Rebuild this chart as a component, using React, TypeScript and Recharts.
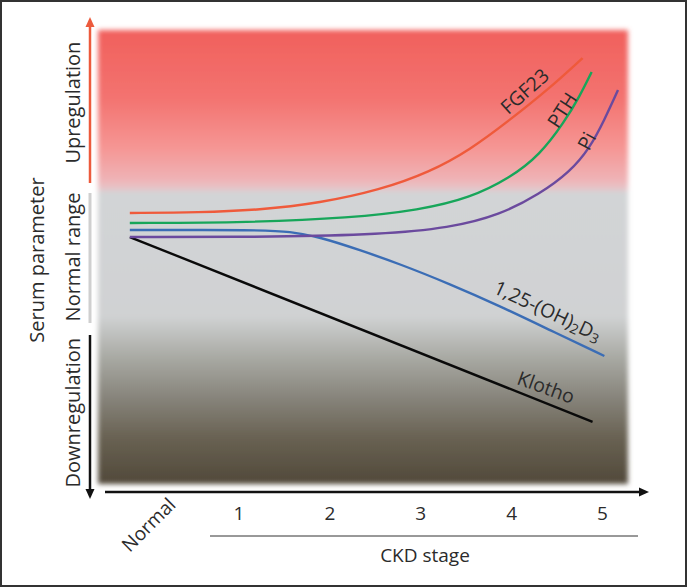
import React from "react";
import {
  LineChart,
  Line,
  XAxis,
  YAxis,
  ReferenceArea,
  ReferenceDot,
} from "recharts";

// stage positions on the x axis ("Normal" sits a bit left of stage 1)
const stageTicks = [-0.2, 1, 2, 3, 4, 5];
const stageLabels = ["Normal", "1", "2", "3", "4", "5"];

// zone labels on the left (value = middle of each zone, 0..100 scale)
const zoneTicks = [84, 50, 15.7];
const zoneLabels = ["Upregulation", "Normal range", "Downregulation"];

const fgf23Data = [
  { x: -0.2, y: 59.69 },
  { x: 0.57, y: 59.8 },
  { x: 1.23, y: 60.35 },
  { x: 1.89, y: 61.89 },
  { x: 2.55, y: 64.76 },
  { x: 3.1, y: 68.72 },
  { x: 3.54, y: 73.57 },
  { x: 3.98, y: 80.18 },
  { x: 4.42, y: 87.22 },
  { x: 4.78, y: 93.83 },
];
const pthData = [
  { x: -0.2, y: 57.49 },
  { x: 1.12, y: 57.6 },
  { x: 2.22, y: 58.59 },
  { x: 2.99, y: 60.35 },
  { x: 3.54, y: 63.0 },
  { x: 3.98, y: 67.4 },
  { x: 4.31, y: 72.47 },
  { x: 4.58, y: 79.74 },
  { x: 4.75, y: 85.46 },
  { x: 4.88, y: 90.75 },
];
const piData = [
  { x: -0.2, y: 54.41 },
  { x: 1.45, y: 54.41 },
  { x: 2.55, y: 54.96 },
  { x: 3.32, y: 56.39 },
  { x: 3.87, y: 59.25 },
  { x: 4.31, y: 63.88 },
  { x: 4.64, y: 68.72 },
  { x: 4.86, y: 74.01 },
  { x: 5.02, y: 80.18 },
  { x: 5.17, y: 86.78 },
];
const vitDData = [
  { x: -0.2, y: 55.95 },
  { x: 1.23, y: 55.95 },
  { x: 1.56, y: 55.62 },
  { x: 1.89, y: 54.41 },
  { x: 2.33, y: 51.54 },
  { x: 2.77, y: 48.46 },
  { x: 3.32, y: 44.05 },
  { x: 3.87, y: 39.21 },
  { x: 4.42, y: 33.92 },
  { x: 5.02, y: 28.19 },
];
const klothoData = [
  { x: -0.2, y: 54.4 },
  { x: 4.89, y: 13.7 },
];

// curve name tags: position (stage, value) and rotation
const curveTags = [
  { name: "FGF23", x: 4.14, y: 86.6, angle: -42 },
  { name: "PTH", x: 4.55, y: 82.4, angle: -57 },
  { name: "Pi", x: 4.82, y: 75.6, angle: -62 },
  { name: "D3", x: 4.4, y: 38.3, angle: 25 },
  { name: "Klotho", x: 4.38, y: 21.4, angle: 20 },
];

const FONT = "'Open Sans', 'Noto Sans', sans-serif";
const TEXT = "#2b2b2b";

function StageTick(props: any) {
  const { x, y, payload } = props;
  const i = stageTicks.indexOf(payload.value);
  const label = stageLabels[i] ?? String(payload.value);
  if (label === "Normal") {
    return (
      <text
        transform={`translate(${x + 47},${y + 14}) rotate(-45)`}
        textAnchor="end"
        fontSize={19}
        fontFamily={FONT}
        fill={TEXT}
      >
        {label}
      </text>
    );
  }
  return (
    <text x={x} y={y + 28} textAnchor="middle" fontSize={19} fontFamily={FONT} fill={TEXT}>
      {label}
    </text>
  );
}

function ZoneTick(props: any) {
  const { y, payload } = props;
  const i = zoneTicks.indexOf(payload.value);
  return (
    <text
      transform={`translate(80,${y}) rotate(-90)`}
      textAnchor="middle"
      fontSize={20}
      fontFamily={FONT}
      fill={TEXT}
    >
      {zoneLabels[i]}
    </text>
  );
}

function CurveTag({ cx, cy, tag }: any) {
  const common = {
    transform: `translate(${cx},${cy}) rotate(${tag.angle})`,
    textAnchor: "middle" as const,
    dominantBaseline: "central" as const,
    fontSize: 19.5,
    fontFamily: FONT,
    fill: TEXT,
  };
  if (tag.name === "D3") {
    return (
      <text {...common}>
        1,25-(OH)
        <tspan dy={5} fontSize={14}>2</tspan>
        <tspan dy={-5}>D</tspan>
        <tspan dy={5} fontSize={14}>3</tspan>
      </text>
    );
  }
  return <text {...common}>{tag.name}</text>;
}

export default function App() {
  return (
    <div
      style={{
        position: "relative",
        width: 687,
        height: 587,
        boxSizing: "border-box",
        border: "2px solid #333",
        background: "#fff",
        overflow: "hidden",
      }}
    >
      <style>{"body{margin:0}"}</style>
      <svg width={0} height={0} style={{ position: "absolute" }}>
        <defs>
          <linearGradient id="zoneGrad" x1="0" y1="0" x2="0" y2="1">
            <stop offset="0" stopColor="#f1605c" />
            <stop offset="0.15" stopColor="#f37370" />
            <stop offset="0.26" stopColor="#f59694" />
            <stop offset="0.33" stopColor="#efb3b6" />
            <stop offset="0.352" stopColor="#e4c7cb" />
            <stop offset="0.357" stopColor="#d2d4d6" />
            <stop offset="0.63" stopColor="#d0d2d3" />
            <stop offset="0.72" stopColor="#a9aaa4" />
            <stop offset="0.81" stopColor="#87847b" />
            <stop offset="0.9" stopColor="#686152" />
            <stop offset="1" stopColor="#51493a" />
          </linearGradient>
          <filter id="soft" x="-5%" y="-5%" width="110%" height="110%">
            <feGaussianBlur stdDeviation="2.5" />
          </filter>
        </defs>
      </svg>
      <div style={{ position: "absolute", left: -2, top: -2 }}>
        <LineChart width={687} height={587} margin={{ top: 30, right: 59, bottom: 43, left: 0 }}>
          <XAxis
            dataKey="x"
            type="number"
            domain={[-0.55, 5.28]}
            allowDataOverflow
            ticks={stageTicks}
            tick={<StageTick />}
            axisLine={false}
            tickLine={false}
            height={60}
            interval={0}
          />
          <YAxis
            type="number"
            domain={[0, 100]}
            allowDataOverflow
            ticks={zoneTicks}
            tick={<ZoneTick />}
            axisLine={false}
            tickLine={false}
            width={98}
            interval={0}
          />
          <ReferenceArea
            x1={-0.55}
            x2={5.28}
            y1={0}
            y2={100}
            fill="url(#zoneGrad)"
            fillOpacity={1}
            stroke="none"
            filter="url(#soft)"
          />
          <Line data={klothoData} dataKey="y" type="linear" stroke="#0a0a0a" strokeWidth={2.4} dot={false} isAnimationActive={false} />
          <Line data={vitDData} dataKey="y" type="basis" stroke="#3b6db5" strokeWidth={2.4} dot={false} isAnimationActive={false} />
          <Line data={piData} dataKey="y" type="basis" stroke="#6b4a9e" strokeWidth={2.4} dot={false} isAnimationActive={false} />
          <Line data={pthData} dataKey="y" type="basis" stroke="#17a65a" strokeWidth={2.4} dot={false} isAnimationActive={false} />
          <Line data={fgf23Data} dataKey="y" type="basis" stroke="#ef5a3b" strokeWidth={2.4} dot={false} isAnimationActive={false} />
          {curveTags.map((t) => (
            <ReferenceDot
              key={t.name}
              x={t.x}
              y={t.y}
              r={0}
              shape={(p: any) => <CurveTag cx={p.cx} cy={p.cy} tag={t} />}
            />
          ))}
        </LineChart>
      </div>
      <svg
        width={687}
        height={587}
        style={{ position: "absolute", left: -2, top: -2, pointerEvents: "none" }}
      >
        {/* left zone bars */}
        <line x1={90} y1={183} x2={90} y2={26} stroke="#ec5a3c" strokeWidth={2.5} />
        <polygon points="90,17 85.5,27 94.5,27" fill="#ec5a3c" />
        <line x1={90} y1={193} x2={90} y2={323} stroke="#cfcfcf" strokeWidth={3} />
        <line x1={90} y1={335} x2={90} y2={490} stroke="#111" strokeWidth={2.5} />
        <polygon points="90,499 85.5,489 94.5,489" fill="#111" />
        <text
          transform="translate(44,260) rotate(-90)"
          textAnchor="middle"
          fontSize={20}
          fontFamily={FONT}
          fill={TEXT}
        >
          Serum parameter
        </text>
        {/* x axis arrow */}
        <line x1={105} y1={492} x2={640} y2={492} stroke="#111" strokeWidth={2.5} />
        <polygon points="649,492 639,487.5 639,496.5" fill="#111" />
        {/* CKD stage bracket */}
        <line x1={210} y1={536} x2={638} y2={536} stroke="#333" strokeWidth={1} />
        <text x={425} y={562} textAnchor="middle" fontSize={19} fontFamily={FONT} fill={TEXT}>
          CKD stage
        </text>
      </svg>
    </div>
  );
}
